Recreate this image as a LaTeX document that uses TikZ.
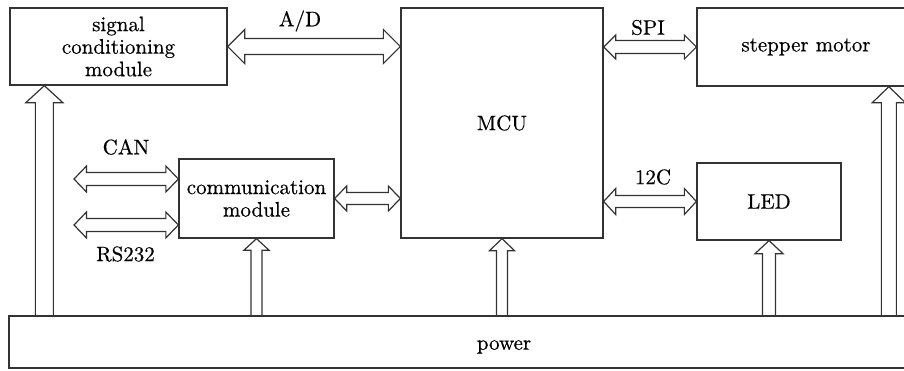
\documentclass[tikz,border=0pt]{standalone}
\usepackage{fontspec}
\setmainfont{lmroman10-regular}[Extension=.otf, FakeBold=0.5]
\usetikzlibrary{calc}
\definecolor{ink}{HTML}{333333}
\tikzset{
  box/.style={draw=ink, line width=1.3pt, inner sep=0pt, text=black, align=center},
  lbl/.style={inner sep=0pt, text=black},
  arr/.style={draw=ink, line width=1.2pt, line join=miter},
  every node/.style={font=\fontsize{21}{22.5}\selectfont}
}
% horizontal double-headed hollow arrow: left end, right end, half shaft, half head, head length
\newcommand\hdarr[5]{%
  \draw[arr] let \p1=(#1), \p2=(#2) in
    (\x1,\y1) -- (\x1+#5pt,\y1+#4pt) -- (\x1+#5pt,\y1+#3pt) -- (\x2-#5pt,\y2+#3pt)
    -- (\x2-#5pt,\y2+#4pt) -- (\x2,\y2) -- (\x2-#5pt,\y2-#4pt) -- (\x2-#5pt,\y2-#3pt)
    -- (\x1+#5pt,\y1-#3pt) -- (\x1+#5pt,\y1-#4pt) -- cycle;}
% vertical hollow arrow pointing up, open at its base
\newcommand\varr[5]{%
  \draw[arr] let \p1=(#1), \p2=(#2) in
    (\x1-#3pt,\y1) -- (\x1-#3pt,\y2-#5pt) -- (\x1-#4pt,\y2-#5pt) -- (\x1,\y2)
    -- (\x1+#4pt,\y2-#5pt) -- (\x1+#3pt,\y2-#5pt) -- (\x1+#3pt,\y1);}
\begin{document}
\begin{tikzpicture}[x=1pt,y=-1pt]
\useasboundingbox (0,0) rectangle (904,370);
\clip (0,0) rectangle (904,370);
\fill[white] (0,0) rectangle (904,370);

\node[box, minimum width=217pt, minimum height=77pt] (sig) at (118.5,46.5) {signal\\conditioning\\module};
\node[box, minimum width=202pt, minimum height=230pt] (mcu) at (502,123) {MCU};
\node[box, minimum width=218pt, minimum height=78pt] (stepper) at (806,47) {stepper motor};
\node[box, minimum width=155pt, minimum height=79pt] (comm) at (256.5,198.5) {communication\\module};
\node[box, minimum width=144pt, minimum height=77pt] (led) at (769,201.5) {LED};
\node[box, minimum width=990pt, minimum height=52pt] (power) at (504,342) {};
\node[lbl] (powertext) at (504,347) {power};

\node[lbl] (ad) at (300,21) {A/D};
\node[lbl] (spi) at (648,27.5) {SPI};
\node[lbl] (i2c) at (653,177) {12C};
\node[lbl] (can) at (126,147) {CAN};
\node[lbl] (rs) at (125.5,254) {RS232};

\coordinate (canL) at (74,179);
\coordinate (rsL) at (74,225);
\coordinate (sigA) at ($(sig.south west)+(35,0)$);
\coordinate (stA) at ($(stepper.south west)+(192.5,0)$);

% horizontal links
\hdarr{sig.east}{sig.east -| mcu.west}{8}{17}{17}
\hdarr{mcu.east |- stepper.west}{stepper.west}{6.5}{12}{12}
\hdarr{mcu.east |- led.west}{led.west}{6}{13}{12}
\hdarr{comm.east}{comm.east -| mcu.west}{6}{12.5}{12}
\hdarr{canL}{canL -| comm.west}{6.5}{13}{12.5}
\hdarr{rsL}{rsL -| comm.west}{6.5}{13}{12.5}

% power links
\varr{sigA |- power.north}{sigA}{9}{18.5}{17}
\varr{comm.south |- power.north}{comm.south}{5.5}{12.5}{11.5}
\varr{mcu.south |- power.north}{mcu.south}{5.5}{12.5}{12}
\varr{led.south |- power.north}{led.south}{6.5}{14}{13}
\varr{stA |- power.north}{stA}{7.5}{16.5}{16}
\end{tikzpicture}
\end{document}
